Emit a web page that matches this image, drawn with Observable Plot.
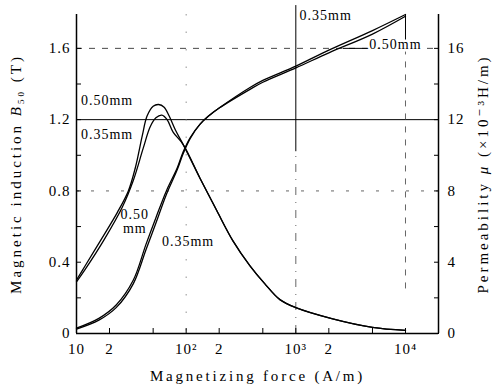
<!DOCTYPE html>
<html><head><meta charset="utf-8">
<script src="https://cdn.jsdelivr.net/npm/d3@7"></script>
<script src="https://cdn.jsdelivr.net/npm/@observablehq/plot@0.6"></script>
<style>
body{margin:0;background:#fff;}
#chart svg text{letter-spacing:1px;}
</style></head><body><div id="chart"></div>
<script>
// Magnetization curves B50 (T) vs magnetizing force H (A/m)
const hB = [10, 16, 23, 33, 43, 53, 66, 83, 94, 109, 134, 160, 200, 382, 500, 1000, 2000, 5000, 10000];
const b035 = [0.025, 0.075, 0.145, 0.28, 0.47, 0.62, 0.78, 0.92, 1.01, 1.095, 1.175, 1.22, 1.265, 1.38, 1.42, 1.50, 1.59, 1.70, 1.79];
const b050 = [0.03, 0.085, 0.16, 0.30, 0.50, 0.65, 0.80, 0.93, 1.02, 1.10, 1.175, 1.22, 1.265, 1.37, 1.41, 1.49, 1.575, 1.68, 1.78];

// Permeability mu (x10^-3 H/m) vs H (A/m)
const hMu050 = [10, 12, 16.5, 23.6, 29.7, 34.4, 39.8, 44, 50, 56, 63, 70, 80, 94, 134, 190, 267, 382, 520, 716, 1000, 2170, 5000, 10000];
const mu050 = [3.0, 3.8, 5.2, 6.8, 8.0, 9.3, 11.1, 12.2, 12.75, 12.85, 12.7, 12.2, 11.4, 10.6, 8.7, 6.9, 5.2, 3.8, 2.8, 1.9, 1.45, 0.82, 0.34, 0.17];
const hMu035 = [10, 12, 17.6, 26.2, 33, 40.6, 47, 53, 60, 67, 76, 94, 134, 190, 267, 382, 520, 716, 1000, 2170, 5000, 10000];
const mu035 = [2.9, 3.6, 5.2, 7.1, 8.6, 10.4, 11.6, 12.1, 12.25, 12.0, 11.3, 10.6, 8.7, 6.9, 5.2, 3.8, 2.8, 1.9, 1.45, 0.82, 0.34, 0.17];

// Axis ticks and labels
const xTicks = [10, 20, 50, 100, 200, 500, 1000, 2000, 5000, 10000];
const xTickLabels = ["10", "2", "5", "10²", "2", "5", "10³", "2", "5", "10⁴"];
const yTicks = [0, 0.2, 0.4, 0.6, 0.8, 1.0, 1.2, 1.4, 1.6];
const yTickLabels = ["0", "", "0.4", "", "0.8", "", "1.2", "", "1.6"];
const muTickLabels = ["0", "", "4", "", "8", "", "12", "", "16"];

// Curve annotations (centred)
const noteText = ["0.50mm", "0.35mm", "0.50\nmm", "0.35mm"];
const noteH = [19, 19, 34, 104];
const noteB = [1.31, 1.12, 0.63, 0.52];
// Annotations at the top end of the curves
const topNoteText = ["0.35mm"];
const topNoteH = [1080];
const topNoteB = [1.785];
const sideNoteText = ["0.50mm"];
const sideNoteH = [8100];
const sideNoteB = [1.62];

const xLab = new Map(xTicks.map((v, i) => [v, xTickLabels[i]]));
const yLab = new Map(yTicks.map((v, i) => [v, yTickLabels[i]]));
const muLab = new Map(yTicks.map((v, i) => [v, muTickLabels[i]]));

const bRows = [
  ...hB.map((h, i) => ({h, v: b035[i], s: "0.35"})),
  ...hB.map((h, i) => ({h, v: b050[i], s: "0.50"}))
];
const muRows = [
  ...hMu050.map((h, i) => ({h, v: mu050[i] / 10, s: "0.50"})),
  ...hMu035.map((h, i) => ({h, v: mu035[i] / 10, s: "0.35"}))
];
const notes = noteText.map((t, i) => ({t, h: noteH[i], b: noteB[i]}));
const topNotes = topNoteText.map((t, i) => ({t, h: topNoteH[i], b: topNoteB[i]}));
const sideNotes = sideNoteText.map((t, i) => ({t, h: sideNoteH[i], b: sideNoteB[i]}));

const font = "'Liberation Serif', 'DejaVu Serif', serif";
const titleY = "Magnetic induction B50 (T)";
const titleMu = "Permeability μ (×10⁻³H/m)";
const titleX = "Magnetizing force (A/m)";

const svg = Plot.plot({
  width: 495, height: 392,
  marginLeft: 76, marginRight: 57, marginTop: 14, marginBottom: 59,
  style: {fontFamily: font, fontSize: "15px", background: "white", color: "black"},
  x: {type: "log", domain: [10, 20000]},
  y: {domain: [0, 1.79]},
  marks: [
    // grid / reference lines
    Plot.ruleY([1.2], {stroke: "black", strokeWidth: 1}),
    Plot.ruleY([1.6], {stroke: "#333", strokeWidth: 0.9, strokeDasharray: "6,7"}),
    Plot.ruleY([0.8], {stroke: "#555", strokeWidth: 0.9, strokeDasharray: "3,12"}),
    Plot.ruleX([100], {stroke: "#777", strokeWidth: 0.8, strokeDasharray: "1.5,16"}),
    Plot.ruleX([1000], {y1: () => 1.02, y2: () => 1.84, stroke: "black", strokeWidth: 1}),
    Plot.ruleX([1000], {y1: () => 0, y2: () => 1.02, stroke: "#555", strokeWidth: 0.9, strokeDasharray: "8,7,1,7"}),
    Plot.ruleX([10000], {y1: () => 1.6, y2: () => 1.79, stroke: "black", strokeWidth: 1}),
    Plot.ruleX([10000], {y1: () => 0.25, y2: () => 1.6, stroke: "#555", strokeWidth: 0.9, strokeDasharray: "6,7"}),
    Plot.ruleY([1.6], {x1: () => 2700, x2: () => 4900, stroke: "black", strokeWidth: 1}),
    // curves
    Plot.line(bRows, {x: "h", y: "v", z: "s", curve: "catmull-rom", stroke: "black", strokeWidth: 1.3}),
    Plot.line(muRows, {x: "h", y: "v", z: "s", curve: "catmull-rom", stroke: "black", strokeWidth: 1.3}),
    // annotations
    Plot.text(notes, {x: "h", y: "b", text: "t", textAnchor: "middle", fontSize: 14, lineHeight: 1.05}),
    Plot.text(topNotes, {x: "h", y: "b", text: "t", textAnchor: "start", fontSize: 14}),
    Plot.text(sideNotes, {x: "h", y: "b", text: "t", fontSize: 14, stroke: "white", strokeWidth: 5, fill: "black"}),
    // axis lines
    Plot.ruleY([0], {stroke: "black", strokeWidth: 1.5}),
    Plot.ruleX([10, 20000], {stroke: "black", strokeWidth: 1.5}),
    // axes (inward ticks)
    Plot.axisX({ticks: xTicks, tickSize: -5, tickPadding: 15, tickFormat: d => xLab.get(d), label: null, fontSize: 15}),
    Plot.axisY({anchor: "left", ticks: yTicks, tickSize: -5, tickPadding: 11, tickFormat: d => yLab.get(d), label: null, fontSize: 15}),
    Plot.axisY({anchor: "right", ticks: yTicks, tickSize: -5, tickPadding: 14, tickFormat: d => muLab.get(d), label: null, fontSize: 15}),
    // axis titles
    Plot.text([titleY], {frameAnchor: "left", textAnchor: "middle", rotate: -90, dx: -60, fontSize: 15}),
    Plot.text([titleMu], {frameAnchor: "right", textAnchor: "middle", rotate: -90, dx: 45, fontSize: 15}),
    Plot.text([titleX], {frameAnchor: "bottom", textAnchor: "middle", dy: 47, fontSize: 15})
  ]
});

document.getElementById("chart").appendChild(svg);

// rich formatting for titles (italic symbols, subscript)
d3.select(svg).selectAll("text").each(function() {
  const t = this.textContent;
  const sel = d3.select(this);
  if (t === titleY) {
    sel.text("").style("letter-spacing", "3px");
    sel.append("tspan").text("Magnetic induction ");
    sel.append("tspan").attr("font-style", "italic").text("B");
    sel.append("tspan").attr("font-size", "9px").attr("dy", "3").text("50");
    sel.append("tspan").attr("dy", "-3").text(" (T)");
  } else if (t === titleMu) {
    sel.text("").style("letter-spacing", "3px");
    sel.append("tspan").text("Permeability ");
    sel.append("tspan").attr("font-style", "italic").text("μ");
    sel.append("tspan").text(" (×10⁻³H/m)");
  } else if (t === titleX) {
    sel.style("letter-spacing", "2.8px");
  }
});
</script></body></html>
